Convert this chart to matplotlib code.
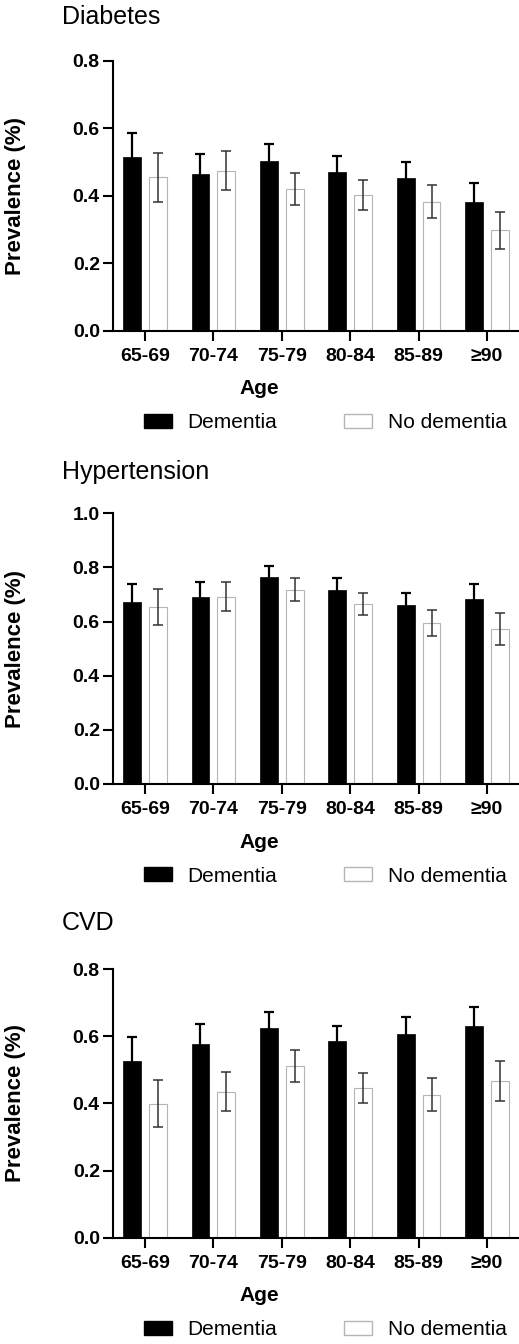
import numpy as np
import matplotlib
matplotlib.use("Agg")
import matplotlib.pyplot as plt
from matplotlib.patches import Patch

plt.rcParams['font.family'] = ['Liberation Sans', 'DejaVu Sans']

ages = ["65-69", "70-74", "75-79", "80-84", "85-89", "≥90"]

# Diabetes
diab_dem = [0.515, 0.465, 0.502, 0.471, 0.451, 0.380]
diab_dem_err = [0.072, 0.060, 0.050, 0.046, 0.049, 0.057]
diab_nodem = [0.454, 0.474, 0.420, 0.402, 0.382, 0.298]
diab_nodem_err = [0.072, 0.058, 0.047, 0.044, 0.049, 0.055]

# Hypertension
hyp_dem = [0.672, 0.692, 0.766, 0.717, 0.660, 0.682]
hyp_dem_err = [0.067, 0.054, 0.041, 0.043, 0.046, 0.055]
hyp_nodem = [0.654, 0.692, 0.718, 0.664, 0.596, 0.572]
hyp_nodem_err = [0.068, 0.054, 0.043, 0.040, 0.048, 0.058]

# CVD
cvd_dem = [0.526, 0.578, 0.623, 0.585, 0.607, 0.629]
cvd_dem_err = [0.071, 0.059, 0.050, 0.046, 0.050, 0.059]
cvd_nodem = [0.399, 0.434, 0.511, 0.446, 0.425, 0.467]
cvd_nodem_err = [0.070, 0.058, 0.048, 0.044, 0.049, 0.059]

W, H = 519, 1344
fig = plt.figure(figsize=(W / 100, H / 100), dpi=100)

panels = [
    ("Diabetes", diab_dem, diab_dem_err, diab_nodem, diab_nodem_err, 0.8, 60.7, 330.7, 17),
    ("Hypertension", hyp_dem, hyp_dem_err, hyp_nodem, hyp_nodem_err, 1.0, 513.3, 784.0, 472),
    ("CVD", cvd_dem, cvd_dem_err, cvd_nodem, cvd_nodem_err, 0.8, 969.0, 1237.7, 923),
]

x = np.arange(len(ages))
bw = 0.263
off = 0.19

for title, dem, dem_err, nodem, nodem_err, ymax, top_px, bot_px, title_px in panels:
    ax = fig.add_axes([113 / W, 1 - bot_px / H, (W - 113) / W, (bot_px - top_px) / H])
    ax.bar(x - off, dem, bw, color='black', edgecolor='black', linewidth=0.5,
           yerr=dem_err, error_kw=dict(ecolor='black', elinewidth=1.6, capsize=3.6, capthick=1.6))
    ax.bar(x + off, nodem, bw, color='white', edgecolor='#b5b5b5', linewidth=0.8,
           yerr=nodem_err, error_kw=dict(ecolor='#333333', elinewidth=1.1, capsize=3.6, capthick=1.1))

    ax.set_xlim(-0.47, 5.47)
    ax.set_ylim(0, ymax)
    ax.set_yticks(np.arange(0, ymax + 0.01, 0.2))
    ax.set_yticklabels(["%.1f" % v for v in np.arange(0, ymax + 0.01, 0.2)])
    ax.set_xticks(x)
    ax.set_xticklabels(ages)
    for s in ['top', 'right']:
        ax.spines[s].set_visible(False)
    for s in ['left', 'bottom']:
        ax.spines[s].set_linewidth(1.5)
    ax.tick_params(axis='both', width=1.5, length=7.5, labelsize=14)
    ax.tick_params(axis='y', pad=2)
    ax.tick_params(axis='x', pad=5)
    for lab in ax.get_xticklabels() + ax.get_yticklabels():
        lab.set_fontweight('bold')

    ax.set_ylabel("Prevalence (%)", fontsize=16, fontweight='bold')
    ax.yaxis.set_label_coords(-0.214, 0.5)
    ax.set_xlabel("Age", fontsize=15, fontweight='bold')
    ax.xaxis.label.set_va('center')
    ax.xaxis.set_label_coords((259 - 113) / (W - 113), -58 / (bot_px - top_px))

    handles = [Patch(facecolor='black', edgecolor='black', label='Dementia'),
               Patch(facecolor='white', edgecolor='#b5b5b5', label='No dementia')]
    ax.legend(handles=handles, ncol=2, frameon=False, fontsize=15,
              loc='center', bbox_to_anchor=((325 - 113) / (W - 113), -92 / (bot_px - top_px)),
              handlelength=1.35, handleheight=0.65, handletextpad=0.75, columnspacing=3.2)

    fig.text(62 / W, 1 - title_px / H, title, fontsize=18, va='center', ha='left')

fig.savefig("out.png", dpi=100)
